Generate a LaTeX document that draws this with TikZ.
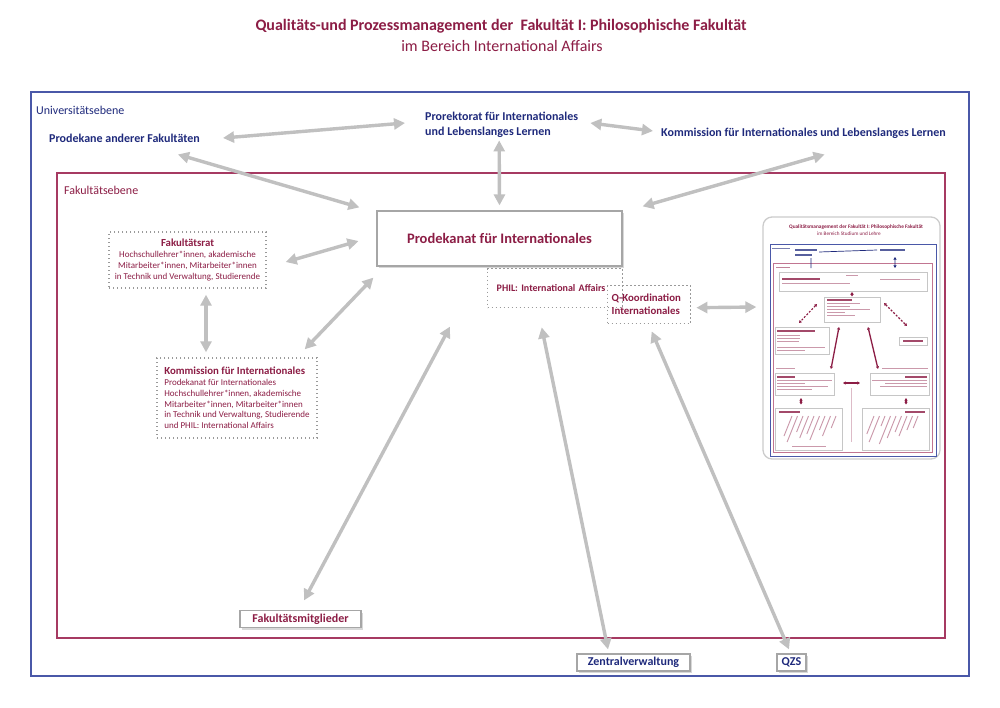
\documentclass[tikz,border=0pt]{standalone}
\usepackage{fontspec}
\setmainfont{Carlito}
\usetikzlibrary{arrows.meta,shadows}

\definecolor{fakred}{HTML}{8C1D45}
\definecolor{uninavy}{HTML}{1F2A7C}
\definecolor{uniline}{HTML}{4A58A8}
\definecolor{fakline}{HTML}{A63A62}
\definecolor{arrowgray}{HTML}{C0C0C0}
\definecolor{boxgray}{HTML}{A6A6A6}
\definecolor{dotgray}{HTML}{9A9A9A}

\tikzset{
  unilabel/.style={text=uninavy, font=\fontsize{12}{15}\selectfont\bfseries, inner sep=0pt, align=left},
  levellabel/.style={font=\fontsize{12}{14}\selectfont, inner sep=0pt},
  fakbox/.style={draw=boxgray, line width=1.2pt, fill=white, text=fakred, inner sep=0pt,
    font=\fontsize{12}{14}\selectfont\bfseries,
    drop shadow={shadow xshift=2pt,shadow yshift=-2pt,opacity=.3}},
  unibox/.style={fakbox, text=uninavy},
  dotbox/.style={draw=dotgray, line width=1.4pt, dash pattern=on 1.4pt off 2.6pt, text=fakred},
  flow/.style={draw=arrowgray, line width=3.4pt, <->, >={Triangle[length=11pt,width=11pt]}},
  thumbbox/.style={draw=gray!45, line width=.8pt, fill=white},
  tbar/.style={draw=fakred!45, line width=.9pt},
  tbold/.style={draw=fakred!80, line width=1.2pt},
  tblue/.style={draw=uninavy!75, line width=1.1pt},
  tarrow/.style={draw=fakred, line width=1.1pt, <->, >={Triangle[length=2.6pt,width=3pt]}},
}

\begin{document}
\begin{tikzpicture}[x=1pt,y=-1pt]
  \useasboundingbox (0,0) rectangle (1000,707);
  \fill[white] (0,0) rectangle (1000,707);

  \node[font=\fontsize{16}{19}\selectfont\bfseries, text=fakred] (title) at (501,26)
    {Qualitäts-und Prozessmanagement der\ \ Fakultät I: Philosophische Fakultät};
  \node[font=\fontsize{16}{19}\selectfont, text=fakred] (subtitle) at (502,46)
    {im Bereich International Affairs};

  \draw[uniline, line width=1.2pt] (31,92) rectangle (969,676);
  \draw[fakline, line width=1.2pt] (57,173) rectangle (945,638);
  \node[levellabel, text=uninavy, anchor=west] (unilevel) at (36,110) {Universitätsebene};
  \node[levellabel, text=fakred, anchor=west] (faklevel) at (64,190) {Fakultätsebene};

  \node[unilabel, anchor=west] (prodekane) at (49,138) {Prodekane anderer Fakultäten};
  \node[unilabel, anchor=west] (prorektorat) at (425,124.5) {Prorektorat für Internationales\\und Lebenslanges Lernen};
  \node[unilabel, anchor=west] (kommill) at (661,133) {Kommission für Internationales und Lebenslanges Lernen};

  \node[fakbox, minimum width=245pt, minimum height=55pt, font=\fontsize{14.5}{17}\selectfont\bfseries] (prodekanat)
    at (499.5,238.5) {Prodekanat für Internationales};
  \node[dotbox, font=\fontsize{10}{12}\selectfont\bfseries, text width=117pt, inner xsep=9pt, minimum height=39pt,
    align=left, anchor=north west] (phil) at (487,268) {PHIL: International Affairs};
  \node[dotbox, font=\fontsize{10.8}{13}\selectfont\bfseries, text width=75pt, inner xsep=4pt, minimum height=38pt,
    align=left, anchor=north west] (qkoord) at (607,285) {Q-Koordination\\Internationales};

  \node[dotbox, minimum width=157pt, minimum height=56pt, align=center, font=\fontsize{9}{10.8}\selectfont] (fakrat)
    at (187.5,260) {{\fontsize{10.8}{12}\selectfont\bfseries Fakultätsrat}\\Hochschullehrer*innen, akademische\\
    Mitarbeiter*innen, Mitarbeiter*innen\\in Technik und Verwaltung, Studierende};
  \node[dotbox, minimum width=160pt, minimum height=80pt, align=left, font=\fontsize{9}{10.8}\selectfont] (kommint)
    at (237,398) {{\fontsize{10.8}{12}\selectfont\bfseries Kommission für Internationales}\\Prodekanat für Internationales\\
    Hochschullehrer*innen, akademische\\Mitarbeiter*innen, Mitarbeiter*innen\\
    in Technik und Verwaltung, Studierende\\und PHIL: International Affairs};

  \node[fakbox, minimum width=121pt, minimum height=17pt] (fakmit) at (300.5,619) {Fakultätsmitglieder};
  \node[unibox, minimum width=113pt, minimum height=17pt] (zentral) at (633.5,662.5) {Zentralverwaltung};
  \node[unibox, minimum width=29pt, minimum height=17pt] (qzs) at (791.5,662.5) {QZS};

  % kleines Schaubild Studium und Lehre
  \node[draw=gray!40, line width=1.3pt, rounded corners=9pt, fill=white, minimum width=177pt, minimum height=242pt]
    (thumb) at (851.5,338) {};
  \node[font=\fontsize{5.3}{6}\selectfont\bfseries, text=fakred] (thumbtitle) at (856,227)
    {Qualitätsmanagement der Fakultät I: Philosophische Fakultät};
  \node[font=\fontsize{5.2}{6}\selectfont, text=fakred] (thumbsub) at (849,234) {im Bereich Studium und Lehre};
  \draw[uniline, line width=.6pt] (770,244) rectangle (936,456);
  \draw[fakline!70, line width=.6pt] (773,263) rectangle (932,452);
  \draw[thumbbox] (779,272) rectangle (927,291);
  \draw[thumbbox] (824,297) rectangle (880,322);
  \draw[thumbbox] (775,327) rectangle (829,354);
  \draw[thumbbox] (899,337) rectangle (927,345);
  \draw[thumbbox] (775,373) rectangle (834,395);
  \draw[thumbbox] (870,373) rectangle (929,395);
  \draw[thumbbox] (775,408) rectangle (842,450);
  \draw[thumbbox] (862,408) rectangle (929,450);

  \draw[uninavy!60, line width=.7pt] (772,248) -- (790,248);
  \draw[tblue] (795,250) -- (817,250) (795,255) -- (812,255) (880,250) -- (905,250);
  \draw[uninavy, line width=.7pt, <->, >={Triangle[length=2.6pt,width=3pt]}]
    (819,252) -- (877,250) (811,258) -- (811,268) (895,257) -- (895,268);
  \draw[fakred!55, line width=.7pt] (776,267) -- (790,267);
  \draw[tbar] (846,275) -- (858,275) (782,283) -- (850,283) (880,279) -- (920,279);
  \draw[tbold] (782,279) -- (820,279);
  \draw[tarrow] (852,292) -- (852,296.5);
  \draw[tbold] (827,300) -- (852,300);
  \foreach \y/\w in {303.5/33,306.5/23,309.5/43,312.5/18,315.5/28}
    \draw[tbar] (827,\y) -- ++(\w,0);
  \draw[tarrow, dash pattern=on 2pt off 1.6pt] (817,304) -- (799,323);
  \draw[tarrow, dash pattern=on 2pt off 1.6pt] (884,303) -- (907,326);
  \draw[tbold] (777,331) -- (815,331);
  \foreach \y/\w in {335/23,338/23,341/22,347/48,350/28}
    \draw[tbar] (777,\y) -- ++(\w,0);
  \draw[tbold] (903,341) -- (923,341);
  \draw[tarrow, line width=1.3pt] (839,327) -- (831,369);
  \draw[tarrow, line width=1.3pt] (868,327) -- (878,369);
  \draw[tbar, line width=.7pt] (776,368) -- (795,368) (882,368) -- (928,368);
  \draw[tbold] (777,377) -- (795,377);
  \foreach \y/\w in {380/55,383/28,386/51,389/35}
    \draw[tbar] (777,\y) -- ++(\w,0);
  \draw[tbold] (905,377) -- (927,377);
  \foreach \y/\w in {380/55,383/42,386/47}
    \draw[tbar] (927,\y) -- ++(-\w,0);
  \draw[tarrow] (843,383) -- (860,383);
  \draw[fakred!30, line width=.8pt] (851,388) -- (851,442);
  \draw[tarrow] (801,398) -- (801,404.5);
  \draw[tarrow] (906,398) -- (906,404.5);
  \draw[tbold] (779,412) -- (800,412);
  \foreach \x/\l in {0/20,1/26,2/16,3/22,4/18,5/24,6/14,7/20,8/12}
    \draw[tbar] (792+5.5*\x,416) -- ++(-0.4*\l,\l);
  \draw[tbar] (792,446) -- (826,446);
  \draw[tbold] (905,412) -- (925,412);
  \foreach \x/\l in {0/18,1/26,2/10,3/28,4/22,5/16,6/20,7/14,8/12}
    \draw[tbar] (874+5.5*\x,416) -- ++(-0.4*\l,\l);

  \draw ([shift={(23,0)}]prodekane.east) edge[flow] ([shift={(-20,-1.5)}]prorektorat.west);
  \draw ([shift={(-22,12)}]prodekane.south east) edge[flow] ([shift={(-17,-3)}]prodekanat.north west);
  \draw ([shift={(-2.5,3)}]prorektorat.south) edge[flow] ([shift={(0,-5)}]prodekanat.north);
  \draw ([shift={(12,-1.5)}]prorektorat.east) edge[flow] ([shift={(-8,-2)}]kommill.west);
  \draw ([shift={(21,16)}]kommill.south) edge[flow] ([shift={(20,-4)}]prodekanat.north east);
  \draw ([shift={(19,2)}]fakrat.east) edge[flow] ([shift={(-18,2.5)}]prodekanat.west);
  \draw ([shift={(18.5,6)}]fakrat.south) edge[flow] ([shift={(-31,-5)}]kommint.north);
  \draw ([shift={(-13,-8)}]kommint.north east) edge[flow] ([shift={(-3,11)}]prodekanat.south west);
  \draw ([shift={(3.5,-9.5)}]fakmit.north) edge[flow] ([shift={(-49.5,60)}]prodekanat.south);
  \draw ([shift={(-25.5,-4)}]zentral.north) edge[flow] ([shift={(-13.5,19)}]phil.south);
  \draw ([shift={(-2.5,-4)}]qzs.north) edge[flow] ([shift={(2.5,7)}]qkoord.south);
  \draw ([shift={(5,3)}]qkoord.east) edge[flow] ([shift={(-6,-31)}]thumb.west);
\end{tikzpicture}
\end{document}
